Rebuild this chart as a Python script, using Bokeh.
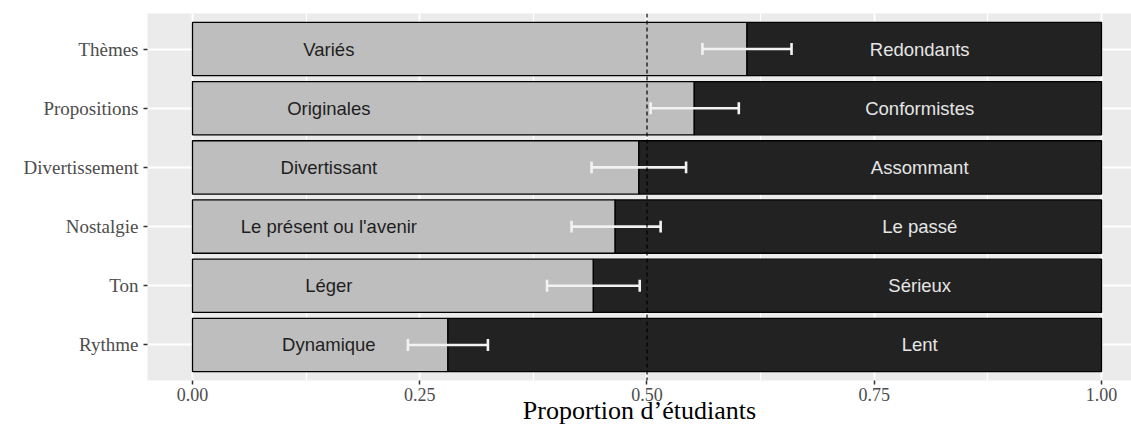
from bokeh.plotting import figure
from bokeh.models import Range1d, FixedTicker, ColumnDataSource, Span
from bokeh.core.properties import value
from bokeh.embed import file_html
from bokeh.resources import INLINE

# ---- data ----
categories = ["Rythme", "Ton", "Nostalgie", "Divertissement", "Propositions", "Thèmes"]
prop = [0.281, 0.441, 0.465, 0.491, 0.552, 0.610]
ci_low = [0.237, 0.390, 0.417, 0.439, 0.504, 0.561]
ci_high = [0.325, 0.492, 0.515, 0.543, 0.601, 0.659]
left_labels = ["Dynamique", "Léger", "Le présent ou l'avenir", "Divertissant", "Originales", "Variés"]
right_labels = ["Lent", "Sérieux", "Le passé", "Assommant", "Conformistes", "Redondants"]
x_ticks = [0.0, 0.25, 0.5, 0.75, 1.0]
x_tick_labels = ["0.00", "0.25", "0.50", "0.75", "1.00"]
x_minor = [0.125, 0.375, 0.625, 0.875]
x_title = "Proportion d’étudiants"

ypos = list(range(1, len(categories) + 1))
src = ColumnDataSource(dict(
    y=ypos, prop=prop, lo=ci_low, hi=ci_high,
    one=[1.0] * len(prop), zero=[0.0] * len(prop),
    cap_lo=[v - 0.1 for v in ypos], cap_hi=[v + 0.1 for v in ypos],
    ll=left_labels, rl=right_labels,
    lx=[0.15] * len(prop), rx=[0.80] * len(prop),
))

p = figure(width=1131, height=427, output_backend="svg", toolbar_location=None,
           x_range=Range1d(-0.0495, 1.033), y_range=Range1d(0.4, 6.6),
           min_border_left=147, min_border_right=0, min_border_top=13, min_border_bottom=0)
p.background_fill_color = "#EBEBEB"
p.border_fill_color = "white"
p.outline_line_color = None

# grids
p.xgrid.ticker = FixedTicker(ticks=x_ticks, minor_ticks=x_minor)
p.xaxis.ticker = FixedTicker(ticks=x_ticks, minor_ticks=x_minor)
p.xgrid.grid_line_color = "white"
p.xgrid.grid_line_width = 2
p.xgrid.minor_grid_line_color = "white"
p.xgrid.minor_grid_line_width = 1.2
p.yaxis.ticker = FixedTicker(ticks=ypos)
p.ygrid.ticker = FixedTicker(ticks=ypos)
p.ygrid.grid_line_color = "white"
p.ygrid.grid_line_width = 2

p.xaxis.major_label_overrides = {t: l for t, l in zip(x_ticks, x_tick_labels)}
p.yaxis.major_label_overrides = {y: c for y, c in zip(ypos, categories)}

for ax in (p.xaxis, p.yaxis):
    ax.axis_line_color = None
    ax.minor_tick_line_color = None
    ax.major_tick_line_color = "#333333"
    ax.major_tick_line_width = 1.5
    ax.major_tick_in = 0
    ax.major_tick_out = 4
    ax.major_label_text_font = "Liberation Serif"
    ax.major_label_text_color = "#4D4D4D"
p.yaxis.major_label_text_font_size = "19px"
p.xaxis.major_label_text_font_size = "18px"
p.yaxis.major_label_standoff = 5
p.xaxis.major_label_standoff = 3
p.xaxis.axis_label = x_title
p.xaxis.axis_label_text_font = "Liberation Serif"
p.xaxis.axis_label_text_font_style = "normal"
p.xaxis.axis_label_text_font_size = "26px"
p.xaxis.axis_label_text_color = "black"
p.xaxis.axis_label_standoff = -8

# bars
p.hbar(y="y", left="zero", right="prop", height=0.9, source=src,
       fill_color="#BEBEBE", line_color="black", line_width=1.3)
p.hbar(y="y", left="prop", right="one", height=0.9, source=src,
       fill_color="#222222", line_color="black", line_width=1.3)

# dashed reference line
p.add_layout(Span(location=0.5, dimension="height", line_color="black",
                  line_dash="4 3", line_width=1.2))

# error bars
p.segment(x0="lo", x1="hi", y0="y", y1="y", source=src, line_color="#F2F2F2", line_width=2.6)
p.segment(x0="lo", x1="lo", y0="cap_lo", y1="cap_hi", source=src, line_color="#F2F2F2", line_width=2.6)
p.segment(x0="hi", x1="hi", y0="cap_lo", y1="cap_hi", source=src, line_color="#F2F2F2", line_width=2.6)

# labels
p.text(x="lx", y="y", text="ll", source=src, text_align="center", text_baseline="middle",
       text_font=value("Liberation Sans"), text_font_size="18.5px", text_color="#1E1E1E")
p.text(x="rx", y="y", text="rl", source=src, text_align="center", text_baseline="middle",
       text_font=value("Liberation Sans"), text_font_size="18.5px", text_color="#E6E6E6")

open("out.html", "w").write(file_html(p, INLINE))
